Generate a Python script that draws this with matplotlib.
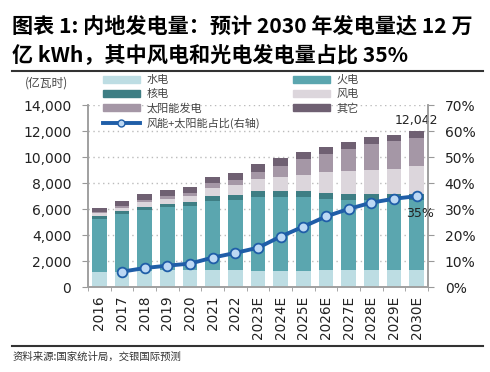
import numpy as np
import matplotlib
matplotlib.use("Agg")
import matplotlib.pyplot as plt
from matplotlib.lines import Line2D
from matplotlib.patches import Patch
from matplotlib.ticker import FuncFormatter, MultipleLocator

plt.rcParams['font.family'] = ['DejaVu Sans', 'Noto Sans CJK SC']

years = ["2016", "2017", "2018", "2019", "2020", "2021", "2022", "2023E",
         "2024E", "2025E", "2026E", "2027E", "2028E", "2029E", "2030E"]
# 亿瓦时 (as labelled)
hydro = [1170, 1190, 1230, 1300, 1360, 1340, 1300, 1250, 1260, 1280, 1290, 1290, 1300, 1310, 1320]
thermal = [4090, 4430, 4720, 4850, 4920, 5250, 5370, 5700, 5690, 5670, 5510, 5450, 5420, 5410, 5400]
nuclear = [220, 220, 250, 260, 280, 420, 420, 460, 460, 460, 460, 460, 470, 480, 480]
wind = [200, 280, 330, 380, 450, 650, 760, 880, 1060, 1250, 1560, 1740, 1840, 1880, 2080]
solar = [100, 115, 200, 220, 260, 320, 400, 600, 870, 1170, 1380, 1660, 1970, 2120, 2180]
other = [290, 355, 450, 450, 470, 510, 520, 570, 560, 550, 570, 590, 560, 520, 582]
share = [np.nan, 6.0, 7.4, 8.3, 9.1, 11.4, 13.2, 15.2, 19.5, 23.3, 27.2, 30.1, 32.5, 34.0, 35.0]

names = ["水电", "火电", "核电", "风电", "太阳能发电", "其它"]
colors = ["#bddde3", "#5ba6af", "#3e7e84", "#dcd6dc", "#a597a6", "#6f6072"]
line_color = "#1f5ea8"

fig = plt.figure(figsize=(4.9, 3.72), dpi=100)
ax = fig.add_axes([0.1796, 0.2277, 0.6939, 0.49])
ax2 = ax.twinx()

x = np.arange(len(years))
bottom = np.zeros(len(years))
for vals, c in zip([hydro, thermal, nuclear, wind, solar, other], colors):
    ax.bar(x, vals, 0.66, bottom=bottom, color=c, zorder=2)
    bottom += np.array(vals)

ax2.plot(x, share, color=line_color, lw=2.8, marker='o', ms=7,
         mfc="#bcd8f4", mec=line_color, mew=1.3, zorder=5)

ax.set_xlim(-0.5, len(years) - 0.5)
ax.set_ylim(0, 14000)
ax2.set_ylim(0, 70)
ax.yaxis.set_major_locator(MultipleLocator(2000))
ax2.yaxis.set_major_locator(MultipleLocator(10))
ax.yaxis.set_major_formatter(FuncFormatter(lambda v, p: f"{v:,.0f}"))
ax2.yaxis.set_major_formatter(FuncFormatter(lambda v, p: f"{v:.0f}%"))
ax.grid(axis='y', linestyle=(0, (1, 2.5)), color="#bbbbbb", lw=1, zorder=0)

ax.set_xticks(x)
ax.set_xticklabels(years, rotation=90)
ax.set_xticks(np.arange(-0.5, len(years)), minor=True)
ax.tick_params(axis='x', which='major', length=0, pad=6, labelsize=9.8, colors="#222222")
ax.tick_params(axis='x', which='minor', length=3, color="#999999")
ax.tick_params(axis='y', length=4, color="#999999", labelsize=10, colors="#222222", pad=8)
ax2.tick_params(axis='y', length=4, color="#999999", labelsize=10, colors="#222222", pad=8)
for a in (ax, ax2):
    a.spines['top'].set_visible(False)
    for s in ('left', 'right', 'bottom'):
        a.spines[s].set_color("#a0a0a0")
        a.spines[s].set_linewidth(1.2)

ax.text(len(years) - 1, bottom[-1] + 250, f"{bottom[-1]:,.0f}", ha='center', va='bottom',
        fontsize=9, color="#222222")
ax2.text(len(years) - 0.85, share[-1] - 4, "35%", ha='center', va='top',
         fontsize=9, color="#222222")

handles = [Patch(color=colors[0]), Patch(color=colors[2]), Patch(color=colors[4]),
           Line2D([], [], color=line_color, lw=2.8, marker='o', ms=5, mfc="#bcd8f4", mec=line_color),
           Patch(color=colors[1]), Patch(color=colors[3]), Patch(color=colors[5])]
labels = ["水电", "核电", "太阳能发电", "风能+太阳能占比(右轴)", "火电", "风电", "其它"]
fig.legend(handles, labels, ncol=2, loc='upper left', bbox_to_anchor=(0.19, 0.825),
           frameon=False, labelcolor="#444444", handlelength=3.3,
           handleheight=0.6, columnspacing=3.0, labelspacing=0.35, handletextpad=0.6,
           prop={'family': ['Noto Sans CJK SC'], 'size': 8})

fig.text(0.05, 0.778, "(亿瓦时)", fontsize=8.5, color="#444444", va='center',
         family=['Noto Sans CJK SC'])

fig.text(0.025, 0.931, "图表 1: 内地发电量：预计 2030 年发电量达 12 万", fontsize=15.2,
         fontweight='bold', va='center', family=['Noto Sans CJK SC'])
fig.text(0.025, 0.852, "亿 kWh，其中风电和光电发电量占比 35%", fontsize=15.2,
         fontweight='bold', va='center', family=['Noto Sans CJK SC'])
fig.add_artist(Line2D([0.025, 0.985], [0.809, 0.809], color="#333333", lw=1.5))
fig.add_artist(Line2D([0.025, 0.985], [0.071, 0.071], color="#333333", lw=1.5))
fig.text(0.025, 0.042, "资料来源:国家统计局，交银国际预测", fontsize=7.5, style='italic',
         color="#333333", va='center', family=['Noto Sans CJK SC'])

fig.savefig("out.png", dpi=100)
